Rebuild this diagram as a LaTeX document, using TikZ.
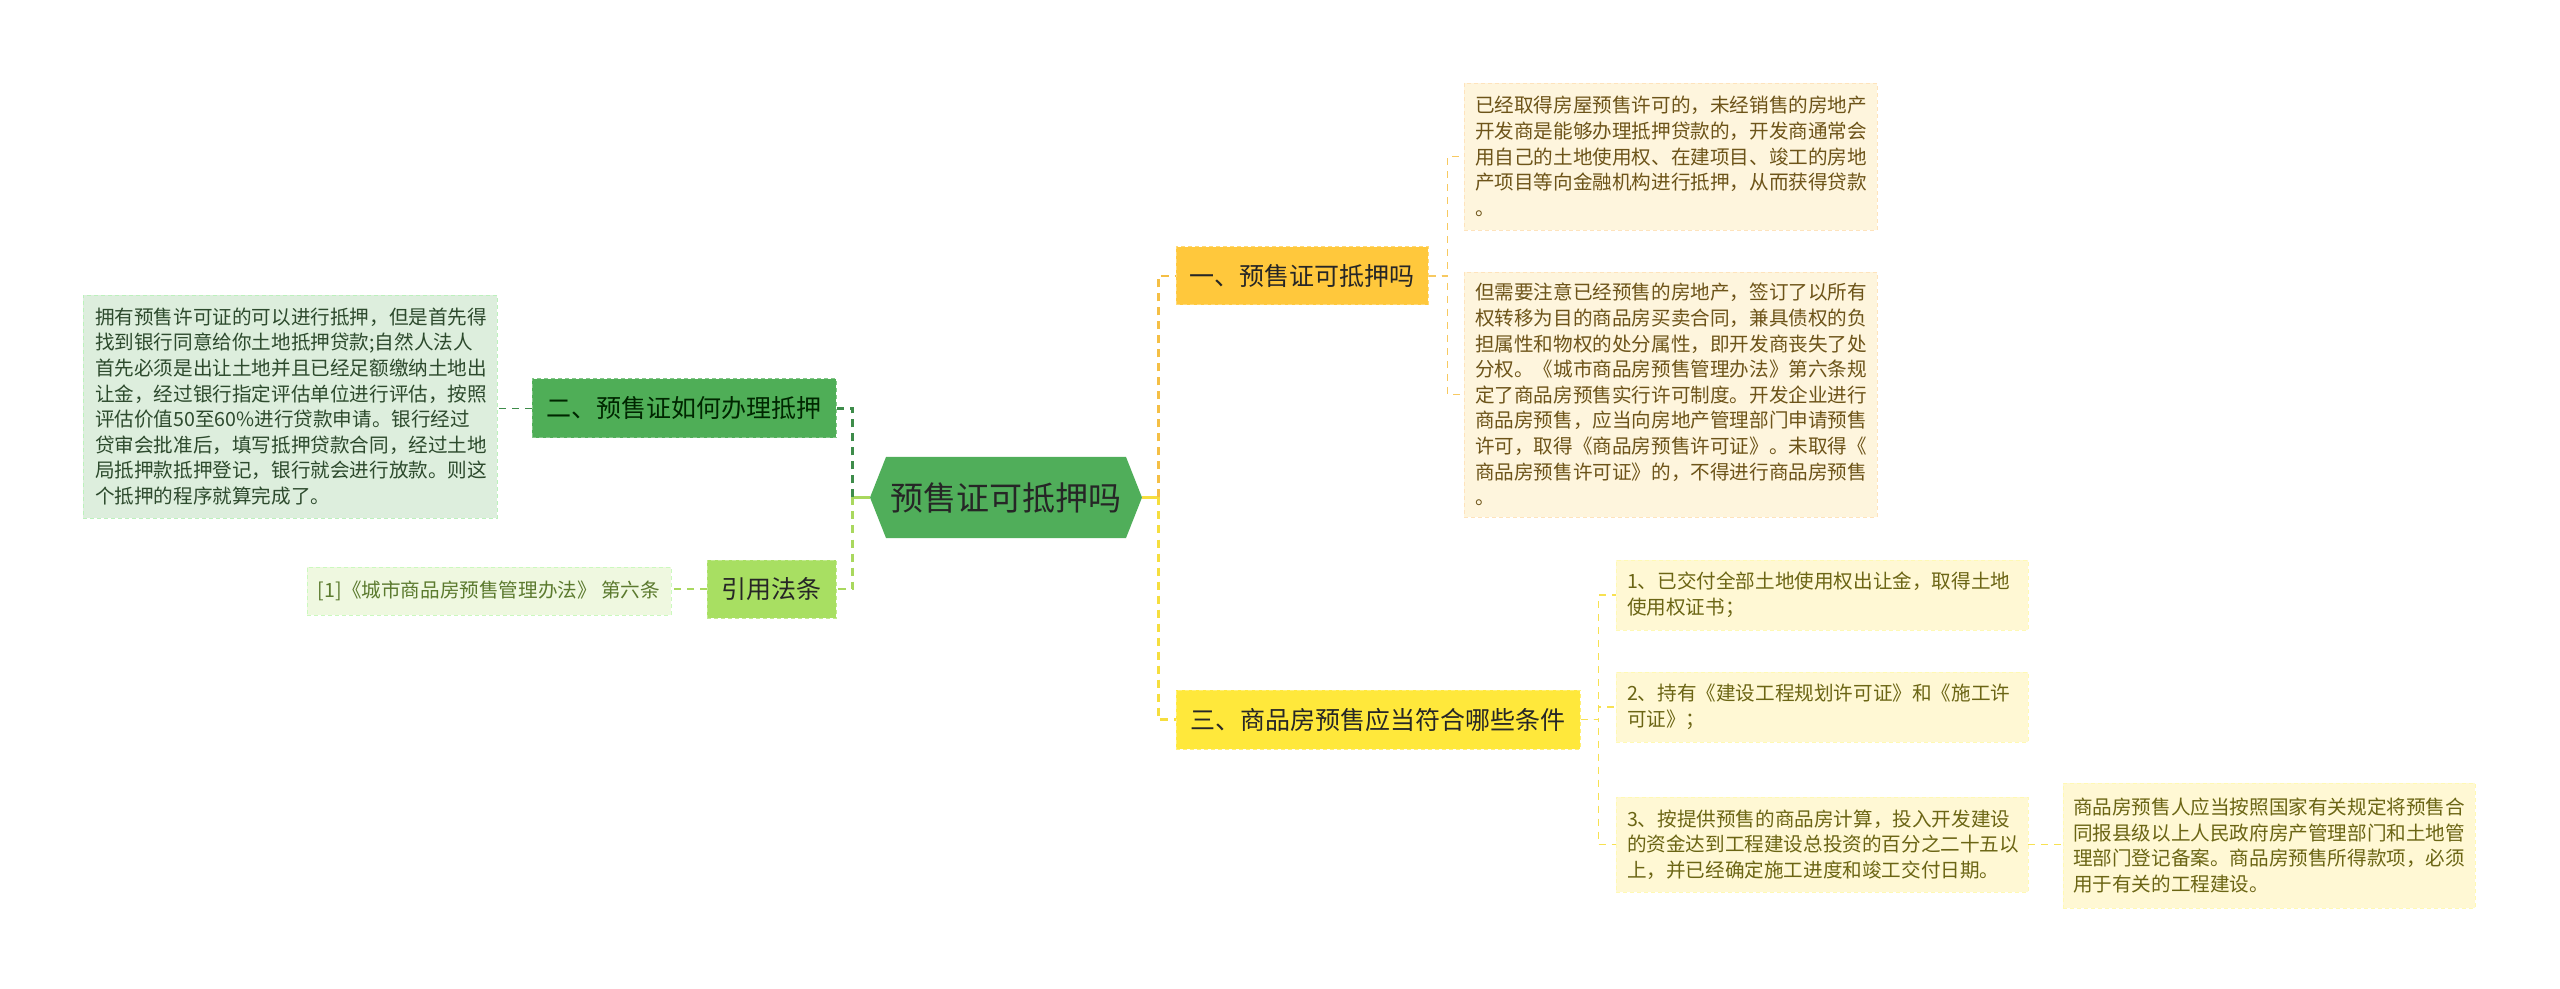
\documentclass[tikz,border=0pt]{standalone}
\usepackage{fontspec}
\setmainfont{Noto Sans CJK SC}
\definecolor{ctrgreen}{HTML}{50AE5A}
\definecolor{onefill}{HTML}{FFC83C}
\definecolor{oneedge}{HTML}{F5BF45}
\definecolor{threefill}{HTML}{FFE83B}
\definecolor{threeedge}{HTML}{F6DE3E}
\definecolor{twofill}{HTML}{4FAE57}
\definecolor{twoedge}{HTML}{3E8C4A}
\definecolor{limefill}{HTML}{A8DF62}
\definecolor{limeedge}{HTML}{A9D85E}
\definecolor{leafAfill}{HTML}{FEF5DD}
\definecolor{leafAtext}{HTML}{6D5419}
\definecolor{leafCfill}{HTML}{FFF8D4}
\definecolor{leafCtext}{HTML}{6B6514}
\definecolor{leafBfill}{HTML}{DDEEDD}
\definecolor{leafBtext}{HTML}{2D4A2D}
\definecolor{leafRfill}{HTML}{EFF8E0}
\definecolor{leafRtext}{HTML}{5B7A2E}
\definecolor{darktext}{HTML}{262626}
\begin{document}
\begin{tikzpicture}[x=0.5pt,y=-0.5pt,
  lvlone/.style={inner sep=0pt, font=\fontsize{12.5pt}{15pt}\selectfont, text=darktext,
    draw, dash pattern=on 2pt off 1.5pt, line width=0.5pt},
  leaf/.style={inner xsep=5.5pt, inner ysep=0pt, align=left,
    font=\fontsize{9.8pt}{12.8pt}\selectfont, draw, dash pattern=on 2pt off 1.5pt, line width=0.4pt},
  trunk/.style={line width=1.2pt, dash pattern=on 4pt off 3pt},
  twig/.style={line width=0.8pt, dash pattern=on 3.5pt off 3pt},
  stub/.style={line width=1.2pt}
]
\useasboundingbox[fill=white] (0,0) rectangle (2560,989);

% centre
\node[minimum width=136pt, minimum height=40.5pt, inner sep=0pt,
  font=\fontsize{16.5pt}{19pt}\selectfont, text=darktext,
  path picture={\fill[ctrgreen] (path picture bounding box.west)
     -- ([xshift=8pt]path picture bounding box.north west)
     -- ([xshift=-8pt]path picture bounding box.north east)
     -- (path picture bounding box.east)
     -- ([xshift=-8pt]path picture bounding box.south east)
     -- ([xshift=8pt]path picture bounding box.south west) -- cycle;}]
  (ctr) at (1006,497.5) {预售证可抵押吗};

% level one
\node[lvlone, fill=onefill, draw=onefill!70!white, minimum width=126pt, minimum height=29pt]
  (n1) at (1302,276) {一、预售证可抵押吗};
\node[lvlone, fill=threefill, draw=threefill!70!white, minimum width=202pt, minimum height=29.5pt]
  (n3) at (1378,719.5) {三、商品房预售应当符合哪些条件};
\node[lvlone, fill=twofill, draw=twofill!70!white, minimum width=152pt, minimum height=29.5pt, text=black!85!green]
  (n2) at (684,408.5) {二、预售证如何办理抵押};
\node[lvlone, fill=limefill, draw=limefill!70!white, minimum width=64.5pt, minimum height=29pt]
  (nc) at (771.5,589) {引用法条};

% leaves
\node[leaf, fill=leafAfill, draw=leafAfill!85!orange, text=leafAtext, text width=195.5pt, minimum height=73.5pt]
  (a1) at (1670.5,156.5) {已经取得房屋预售许可的，未经销售的房地产\\开发商是能够办理抵押贷款的，开发商通常会\\用自己的土地使用权、在建项目、竣工的房地\\产项目等向金融机构进行抵押，从而获得贷款\\。};
\node[leaf, fill=leafAfill, draw=leafAfill!85!orange, text=leafAtext, text width=195.5pt, minimum height=122.5pt]
  (a2) at (1670.5,394.5) {但需要注意已经预售的房地产，签订了以所有\\权转移为目的商品房买卖合同，兼具债权的负\\担属性和物权的处分属性，即开发商丧失了处\\分权。《城市商品房预售管理办法》第六条规\\定了商品房预售实行许可制度。开发企业进行\\商品房预售，应当向房地产管理部门申请预售\\许可，取得《商品房预售许可证》。未取得《\\商品房预售许可证》的，不得进行商品房预售\\。};
\node[leaf, fill=leafCfill, draw=leafCfill!85!yellow, text=leafCtext, text width=195pt, minimum height=35pt]
  (c1) at (1822,595) {1、已交付全部土地使用权出让金，取得土地\\使用权证书；};
\node[leaf, fill=leafCfill, draw=leafCfill!85!yellow, text=leafCtext, text width=195pt, minimum height=35pt]
  (c2) at (1822,707) {2、持有《建设工程规划许可证》和《施工许\\可证》；};
\node[leaf, fill=leafCfill, draw=leafCfill!85!yellow, text=leafCtext, text width=195pt, minimum height=47.5pt]
  (c3) at (1822,844.5) {3、按提供预售的商品房计算，投入开发建设\\的资金达到工程建设总投资的百分之二十五以\\上，并已经确定施工进度和竣工交付日期。};
\node[leaf, fill=leafCfill, draw=leafCfill!85!yellow, text=leafCtext, inner xsep=5pt, text width=196pt, minimum height=62.5pt]
  (d1) at (2269,845.5) {商品房预售人应当按照国家有关规定将预售合\\同报县级以上人民政府房产管理部门和土地管\\理部门登记备案。商品房预售所得款项，必须\\用于有关的工程建设。};
\node[leaf, fill=leafBfill, draw=leafBfill!85!green, text=leafBtext, inner xsep=6pt, text width=195pt, minimum height=111.5pt]
  (b1) at (290,406.5) {拥有预售许可证的可以进行抵押，但是首先得\\找到银行同意给你土地抵押贷款;自然人法人\\首先必须是出让土地并且已经足额缴纳土地出\\让金，经过银行指定评估单位进行评估，按照\\评估价值50至60\%进行贷款申请。银行经过\\贷审会批准后，填写抵押贷款合同，经过土地\\局抵押款抵押登记，银行就会进行放款。则这\\个抵押的程序就算完成了。};
\node[leaf, fill=leafRfill, draw=leafRfill!85!green, text=leafRtext, inner xsep=0pt, minimum width=182pt, minimum height=24pt]
  (r1) at (489,591) {[1]《城市商品房预售管理办法》 第六条};

% connectors: centre to level one
\draw[stub, limeedge] (ctr.west) -- ++(-17,0);
\draw[trunk, twoedge] (ctr.west) ++(-17,0) |- (n2.east);
\draw[trunk, limeedge] (ctr.west) ++(-17,0) |- (nc.east);
\draw[stub, threeedge] (ctr.east) -- ++(16,0);
\draw[trunk, oneedge] (ctr.east) ++(16,0) |- (n1.west);
\draw[trunk, threeedge] (ctr.east) ++(16,0) |- (n3.west);

% level one to leaves
\draw[twig, oneedge!85!white] (n1.east) -- ++(19,0) |- (a1.west);
\draw[twig, oneedge!85!white] (n1.east) -- ++(19,0) |- (a2.west);
\draw[twig, threeedge!90!white] (n3.east) -- ++(18,0) |- (c1.west);
\draw[twig, threeedge!90!white] (n3.east) -- ++(18,0) |- (c2.west);
\draw[twig, threeedge!90!white] (n3.east) -- ++(18,0) |- (c3.west);
\draw[twig, threeedge!90!white] (c3.east) -- (c3.east -| d1.west);
\draw[twig, twoedge] (n2.west) -- (n2.west -| b1.east);
\draw[twig, limeedge] (nc.west) -- (nc.west -| r1.east);
\end{tikzpicture}
\end{document}
